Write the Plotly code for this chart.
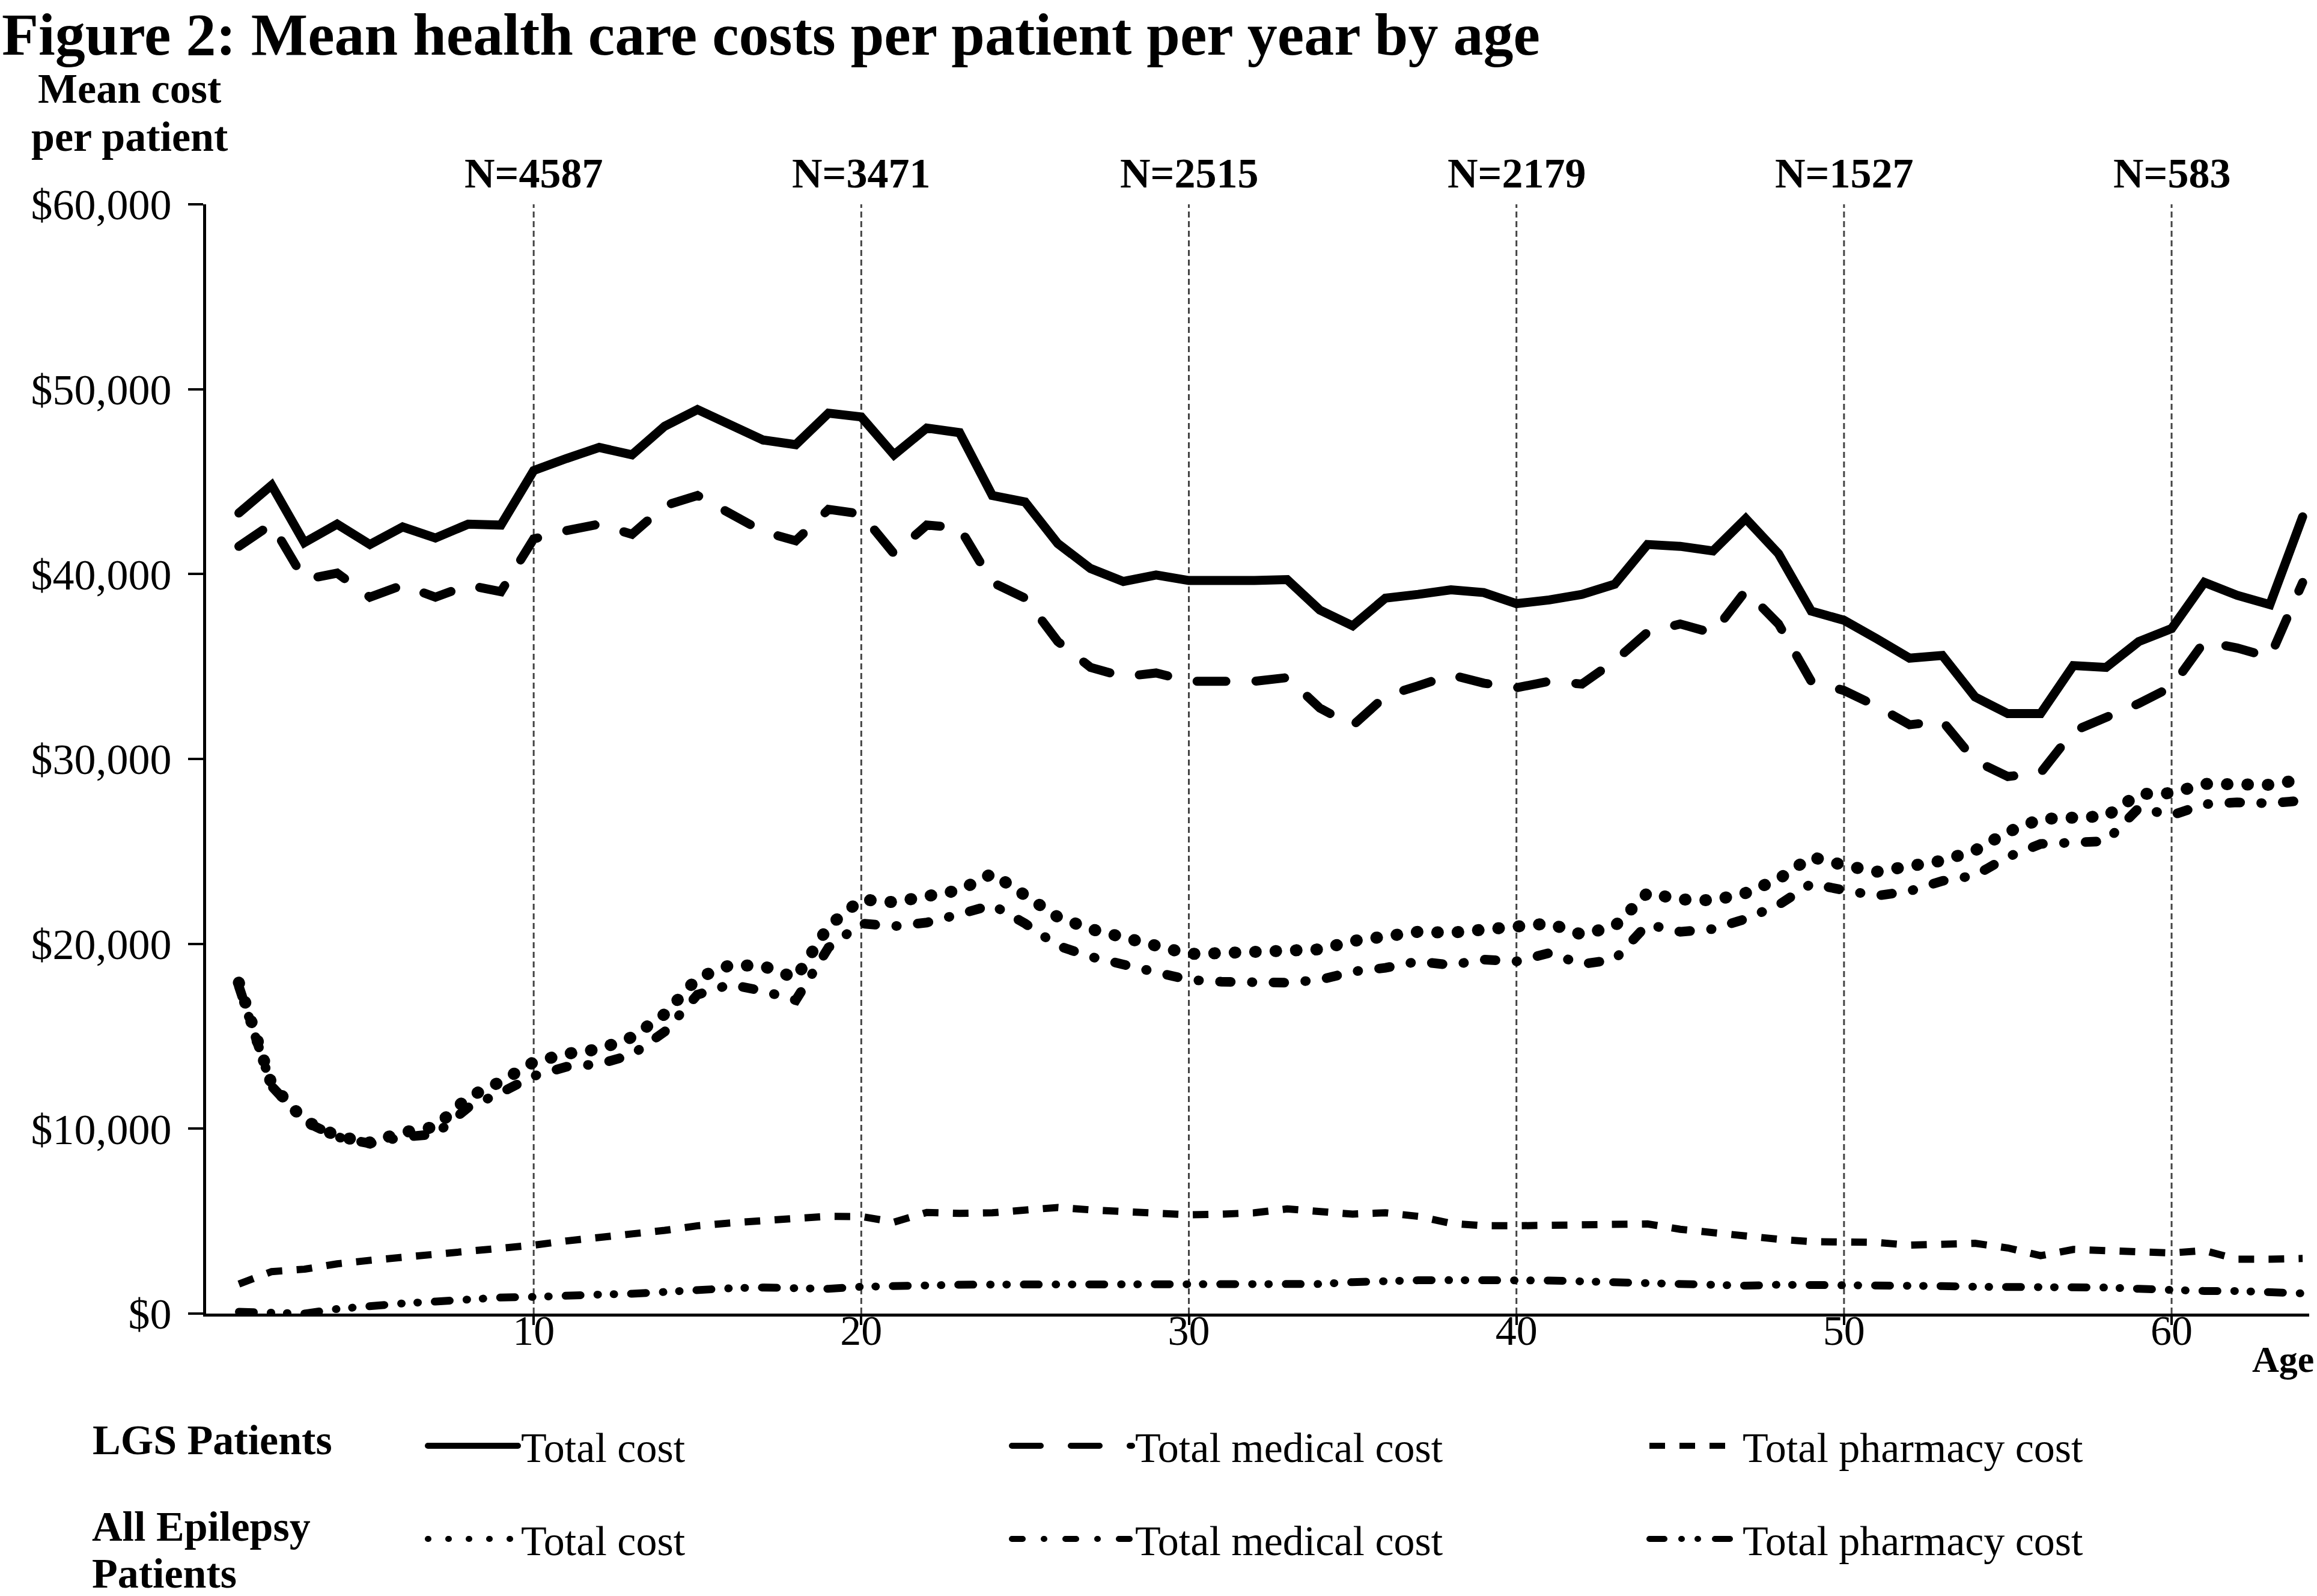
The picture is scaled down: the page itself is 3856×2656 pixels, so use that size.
import plotly.graph_objects as go

# ---------------- data ----------------
ages = list(range(1, 65))

lgs_total = [43300, 44800, 41700, 42700, 41600, 42550, 41950, 42700, 42650, 45600,
             46250, 46850, 46450, 48000, 48900, 48050, 47250, 47000, 48700, 48500,
             46450, 47900, 47650, 44250, 43900, 41650, 40300, 39600, 39950, 39650,
             39600, 39650, 39700, 38050, 37200, 38700, 38900, 39150, 39000, 38400,
             38600, 38900, 39450, 41600, 41500, 41250, 43000, 41100, 38000, 37500,
             36500, 35450, 35600, 33350, 32450, 32450, 35050, 34950, 36350, 37050,
             39550, 38850, 38350, 43100]

lgs_medical = [41500, 42700, 39700, 40050, 38750, 39400, 38750, 39400, 39050, 41900,
               42350, 42700, 42150, 43700, 44250, 43300, 42300, 41800, 43500, 43250,
               41100, 42650, 42500, 39550, 38700, 36350, 34950, 34450, 34650, 34200,
               34200, 34200, 34400, 32750, 31800, 33400, 33950, 34550, 34100, 33850,
               34200, 34050, 35300, 36850, 37300, 36800, 39100, 37300, 34200, 33700,
               32850, 31850, 32050, 29900, 29050, 29250, 31500, 32200, 33000, 33900,
               36350, 36000, 35500, 39550]

lgs_pharmacy = [1600, 2270, 2400, 2690, 2880, 3030, 3170, 3360, 3550, 3700,
                3930, 4080, 4310, 4500, 4750, 4900, 5070, 5150, 5260, 5250,
                4950, 5470, 5420, 5450, 5600, 5740, 5610, 5490, 5420, 5340,
                5380, 5450, 5660, 5510, 5380, 5450, 5260, 4880, 4750, 4750,
                4770, 4750, 4750, 4850, 4560, 4350, 4160, 4020, 3890, 3890,
                3850, 3700, 3720, 3800, 3550, 3130, 3470, 3400, 3340, 3280,
                3410, 2940, 2940, 2980]

epi_total = [17900, 12400, 10450, 9600, 9250, 9800, 10100, 11700, 12550, 13600,
             14050, 14300, 14950, 16200, 18150, 18850, 18800, 18150, 20950, 22400,
             22250, 22500, 22900, 23800, 22700, 21450, 20800, 20350, 20000, 19450,
             19500, 19550, 19550, 19700, 20150, 20450, 20650, 20600, 20800, 20900,
             21100, 20500, 20950, 22750, 22400, 22350, 22750, 23500, 24700, 24250,
             23900, 24200, 24500, 25050, 26050, 26750, 26850, 26900, 28100, 28150,
             28650, 28650, 28600, 28900]

epi_medical = [17700, 12300, 10400, 9550, 9200, 9550, 9700, 11150, 11950, 12850,
               13350, 13500, 14000, 15250, 17250, 17800, 17450, 16950, 19800, 21100,
               20950, 21150, 21600, 22100, 21100, 19900, 19300, 18900, 18500, 18050,
               17950, 17900, 17900, 18050, 18500, 18700, 19050, 18850, 19150, 19050,
               19500, 18900, 19150, 21050, 20650, 20800, 21350, 22100, 23250, 22900,
               22600, 22850, 23400, 23700, 24700, 25400, 25450, 25550, 27350, 26950,
               27550, 27650, 27600, 27750]

epi_pharmacy = [100, 50, 0, 250, 420, 550, 650, 800, 870, 900,
                920, 1030, 1070, 1200, 1280, 1370, 1410, 1370, 1340, 1450,
                1510, 1560, 1560, 1570, 1570, 1570, 1570, 1570, 1570, 1570,
                1600, 1620, 1540, 1600, 1700, 1790, 1800, 1810, 1820, 1830,
                1790, 1740, 1700, 1680, 1640, 1510, 1510, 1560, 1560, 1565,
                1565, 1565, 1490, 1450, 1450, 1510, 1470, 1410, 1340, 1260,
                1220, 1220, 1180, 1090]

n_ages = [10, 20, 30, 40, 50, 60]
n_labels = ["N=4587", "N=3471", "N=2515", "N=2179", "N=1527", "N=583"]
y_ticks = [0, 10000, 20000, 30000, 40000, 50000, 60000]
y_tick_labels = ["$0", "$10,000", "$20,000", "$30,000", "$40,000", "$50,000", "$60,000"]
x_ticks = [10, 20, 30, 40, 50, 60]

# ---------------- styling ----------------
FONT = "Liberation Serif, Times New Roman, serif"
W, H = 3856, 2656
ML, MR, MT, MB = 343, 13, 340, 470
PW, PH = W - ML - MR, H - MT - MB


def px_x(px):
    return (px - ML) / PW


def px_y(py):
    return (H - MB - py) / PH


series = [
    ("Total cost", lgs_total, "solid", 15, "legend"),
    ("Total medical cost", lgs_medical, "48px,50px", 15, "legend2"),
    ("Total pharmacy cost", lgs_pharmacy, "26px,24px", 12, "legend3"),
    ("Total cost", epi_total, "1px,33px", 20, "legend4"),
    ("Total medical cost", epi_medical, "18px,35px,1px,35px", 16, "legend5"),
    ("Total pharmacy cost", epi_pharmacy, "25px,28px,1px,26px,1px,28px", 13, "legend6"),
]

fig = go.Figure()
for name, vals, dash, width, leg in series:
    fig.add_trace(go.Scatter(
        x=ages, y=vals, mode="lines", name=name, legend=leg,
        line=dict(color="black", width=width, dash=dash),
        hoverinfo="skip",
    ))

for a in n_ages:
    fig.add_shape(type="line", xref="x", yref="y", x0=a, x1=a, y0=0, y1=60000,
                  line=dict(color="#444444", width=3, dash="10px,6px"), layer="below")

bold = dict(family=FONT, size=70, color="black", weight="bold")
annotations = []
for a, lab in zip(n_ages, n_labels):
    annotations.append(dict(x=a, xref="x", y=px_y(288), yref="paper", text=lab,
                            showarrow=False, xanchor="center", yanchor="middle", font=bold))
annotations.append(dict(x=px_x(215), xref="paper", y=px_y(147), yref="paper",
                        text="Mean cost", showarrow=False,
                        xanchor="center", yanchor="middle", font=bold))
annotations.append(dict(x=px_x(215), xref="paper", y=px_y(227), yref="paper",
                        text="per patient", showarrow=False,
                        xanchor="center", yanchor="middle", font=bold))
annotations.append(dict(x=px_x(3799), xref="paper", y=px_y(2262), yref="paper",
                        text="Age", showarrow=False, xanchor="center", yanchor="middle",
                        font=dict(family=FONT, size=62, color="black", weight="bold")))
annotations.append(dict(x=px_x(152), xref="paper", y=px_y(2396), yref="paper",
                        text="LGS Patients", showarrow=False, xanchor="left", yanchor="middle",
                        font=bold))
annotations.append(dict(x=px_x(152), xref="paper", y=px_y(2540), yref="paper",
                        text="All Epilepsy", showarrow=False, xanchor="left",
                        yanchor="middle", font=bold, height=77, borderpad=0))
annotations.append(dict(x=px_x(152), xref="paper", y=px_y(2618), yref="paper",
                        text="Patients", showarrow=False, xanchor="left",
                        yanchor="middle", font=bold, height=77, borderpad=0))

leg_font = dict(family=FONT, size=70, color="black")
col_px = [707, 1679, 2740]
col_itemwidth = [150, 200, 150]
row_px = [2406, 2561]
legend_defs = {}
names = ["legend", "legend2", "legend3", "legend4", "legend5", "legend6"]
for i, ln in enumerate(names):
    r, c = divmod(i, 3)
    legend_defs[ln] = dict(x=px_x(col_px[c]), y=px_y(row_px[r]), xref="paper", yref="paper",
                           xanchor="left", yanchor="middle", font=leg_font,
                           bgcolor="rgba(0,0,0,0)", borderwidth=0,
                           itemwidth=col_itemwidth[c], orientation="h")

fig.update_layout(
    width=W, height=H,
    margin=dict(l=ML, r=MR, t=MT, b=MB, autoexpand=False),
    paper_bgcolor="white", plot_bgcolor="white",
    font=dict(family=FONT, size=70, color="black"),
    title=dict(text="Figure 2: Mean health care costs per patient per year by age",
               x=3 / W, xref="container", xanchor="left",
               y=1 - 56 / H, yref="container", yanchor="middle",
               font=dict(family=FONT, size=100, color="black", weight="bold")),
    showlegend=True,
    annotations=annotations,
    xaxis=dict(range=[0, 64.2], tickvals=x_ticks, showgrid=False, zeroline=False,
               showline=True, linecolor="black", linewidth=5,
               ticks="outside", ticklen=14, tickwidth=4, tickcolor="black",
               ticklabelstandoff=-51,
               tickfont=dict(family=FONT, size=70, color="black")),
    yaxis=dict(range=[0, 60000], tickvals=y_ticks, ticktext=y_tick_labels,
               showgrid=False, zeroline=False,
               showline=True, linecolor="black", linewidth=5,
               ticks="outside", ticklen=25, tickwidth=4, tickcolor="black",
               ticklabelstandoff=13,
               tickfont=dict(family=FONT, size=72, color="black")),
    **legend_defs,
)

post = """
document.body.style.margin='0';
document.body.style.overflow='hidden';
var gd=document.getElementById('{plot_id}');
function caps(){
  gd.querySelectorAll('path.js-line').forEach(function(p){p.style.strokeLinecap='round';});
  var tr=gd.querySelectorAll('.scatterlayer .trace');
  if(tr[2]){tr[2].querySelectorAll('path.js-line').forEach(function(p){p.style.strokeLinecap='butt';});}
  gd.querySelectorAll('.legend3 path.js-line').forEach(function(p){p.style.strokeLinecap='butt';});
}
caps();
gd.on('plotly_afterplot', caps);
"""

fig.write_html("out.html", post_script=post, config={"displayModeBar": False})
